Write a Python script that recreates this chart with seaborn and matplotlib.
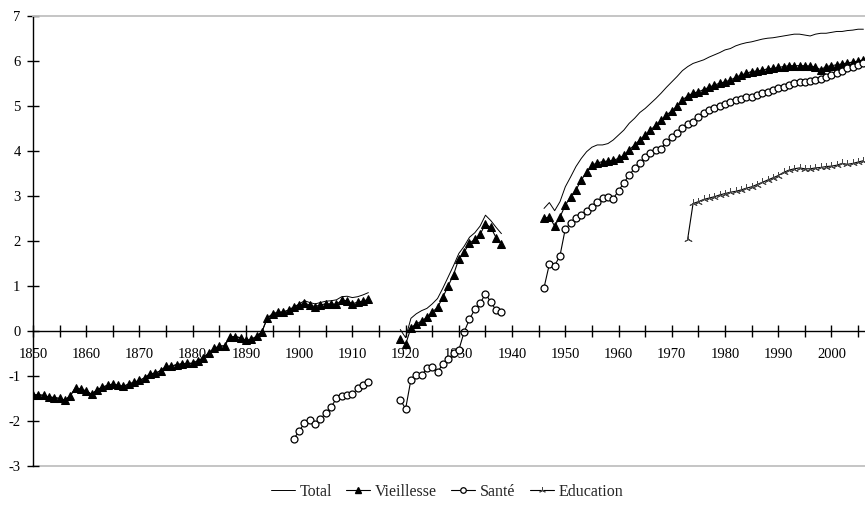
import numpy as np
import pandas as pd
import matplotlib
matplotlib.use("Agg")
import matplotlib.pyplot as plt
import seaborn as sns

# ---- data (log scale values) ----
years_a = list(range(1850, 1914))   # 1850-1913
years_b = list(range(1919, 1939))   # 1919-1938
years_c = list(range(1946, 2007))   # 1946-2006
years_sante_a = list(range(1899, 1914))
years_educ = list(range(1973, 2007))

vieillesse_a = [-1.42, -1.42, -1.43, -1.47, -1.48, -1.50, -1.54, -1.44, -1.26, -1.30,
                -1.33, -1.41, -1.31, -1.25, -1.21, -1.18, -1.21, -1.23, -1.18, -1.14,
                -1.10, -1.04, -0.95, -0.94, -0.88, -0.79, -0.78, -0.75, -0.73, -0.72,
                -0.72, -0.66, -0.60, -0.49, -0.39, -0.34, -0.33, -0.13, -0.13, -0.15,
                -0.21, -0.19, -0.12, -0.02, 0.28, 0.38, 0.41, 0.42, 0.46, 0.53,
                0.57, 0.62, 0.57, 0.54, 0.58, 0.60, 0.60, 0.59, 0.68, 0.67,
                0.60, 0.64, 0.66, 0.70]
total_a = [-1.42, -1.42, -1.43, -1.47, -1.48, -1.50, -1.54, -1.44, -1.26, -1.30,
           -1.33, -1.41, -1.31, -1.25, -1.21, -1.18, -1.21, -1.23, -1.18, -1.14,
           -1.10, -1.04, -0.95, -0.94, -0.88, -0.79, -0.78, -0.75, -0.73, -0.72,
           -0.72, -0.66, -0.60, -0.49, -0.39, -0.34, -0.33, -0.13, -0.13, -0.15,
           -0.21, -0.19, -0.12, -0.02, 0.28, 0.38, 0.41, 0.42, 0.46, 0.53,
           0.60, 0.67, 0.63, 0.60, 0.63, 0.66, 0.67, 0.69, 0.76, 0.77,
           0.74, 0.76, 0.80, 0.85]
sante_a = [-2.39, -2.23, -2.04, -1.98, -2.07, -1.96, -1.82, -1.69, -1.50, -1.44,
           -1.43, -1.41, -1.27, -1.21, -1.14]

vieillesse_b = [-0.19, -0.30, 0.07, 0.15, 0.22, 0.30, 0.42, 0.52, 0.75, 1.00,
                1.25, 1.60, 1.75, 1.95, 2.03, 2.15, 2.37, 2.30, 2.07, 1.94]
total_b = [0.03, -0.15, 0.28, 0.38, 0.45, 0.50, 0.60, 0.72, 0.95, 1.20,
           1.45, 1.72, 1.88, 2.08, 2.18, 2.33, 2.57, 2.45, 2.30, 2.16]
sante_b = [-1.53, -1.73, -1.08, -0.98, -0.99, -0.83, -0.80, -0.92, -0.73, -0.62,
           -0.50, -0.42, -0.02, 0.26, 0.48, 0.61, 0.83, 0.64, 0.46, 0.41]

vieillesse_c = [2.50, 2.53, 2.33, 2.53, 2.79, 2.98, 3.13, 3.35, 3.53, 3.68,
                3.73, 3.76, 3.77, 3.79, 3.83, 3.90, 4.02, 4.13, 4.24, 4.35,
                4.46, 4.57, 4.68, 4.79, 4.89, 4.99, 5.13, 5.22, 5.28, 5.31,
                5.36, 5.41, 5.46, 5.50, 5.53, 5.57, 5.63, 5.68, 5.72, 5.76,
                5.77, 5.79, 5.82, 5.83, 5.85, 5.87, 5.89, 5.89, 5.89, 5.89,
                5.88, 5.86, 5.80, 5.87, 5.89, 5.91, 5.93, 5.95, 5.97, 5.99,
                6.02]
total_c = [2.72, 2.85, 2.67, 2.87, 3.20, 3.42, 3.65, 3.83, 3.98, 4.08,
           4.13, 4.13, 4.16, 4.24, 4.35, 4.46, 4.61, 4.72, 4.85, 4.94,
           5.05, 5.16, 5.28, 5.41, 5.53, 5.65, 5.78, 5.87, 5.94, 5.98,
           6.02, 6.08, 6.13, 6.18, 6.24, 6.27, 6.33, 6.37, 6.40, 6.42,
           6.45, 6.48, 6.50, 6.51, 6.53, 6.55, 6.57, 6.59, 6.59, 6.57,
           6.55, 6.59, 6.61, 6.61, 6.63, 6.65, 6.65, 6.67, 6.68, 6.70,
           6.70]
sante_c = [0.96, 1.48, 1.45, 1.67, 2.27, 2.39, 2.50, 2.57, 2.67, 2.76,
           2.87, 2.96, 2.98, 2.94, 3.11, 3.29, 3.46, 3.61, 3.72, 3.87,
           3.96, 4.02, 4.05, 4.20, 4.30, 4.39, 4.50, 4.59, 4.65, 4.74,
           4.83, 4.91, 4.96, 4.99, 5.04, 5.09, 5.13, 5.16, 5.19, 5.20,
           5.24, 5.28, 5.31, 5.35, 5.39, 5.42, 5.46, 5.50, 5.52, 5.53,
           5.55, 5.57, 5.59, 5.63, 5.68, 5.73, 5.78, 5.83, 5.87, 5.90,
           5.94]
education = [2.05, 2.83, 2.87, 2.92, 2.95, 2.98, 3.02, 3.05, 3.08, 3.10,
             3.13, 3.17, 3.20, 3.25, 3.30, 3.35, 3.40, 3.45, 3.52, 3.57,
             3.60, 3.62, 3.60, 3.60, 3.62, 3.63, 3.65, 3.66, 3.68, 3.72,
             3.70, 3.72, 3.75, 3.78]

series_names = ["Total", "Vieillesse", "Santé", "Education"]
x_ticks = list(range(1850, 2007, 5))


def segments(name, parts):
    rows = []
    for i, (yrs, vals) in enumerate(parts):
        rows.append(pd.DataFrame({"year": yrs, "value": vals, "series": name, "segment": i}))
    return pd.concat(rows)


df = pd.concat([
    segments("Total", [(years_a, total_a), (years_b, total_b), (years_c, total_c)]),
    segments("Vieillesse", [(years_a, vieillesse_a), (years_b, vieillesse_b), (years_c, vieillesse_c)]),
    segments("Santé", [(years_sante_a, sante_a), (years_b, sante_b), (years_c, sante_c)]),
    segments("Education", [(years_educ, education)]),
], ignore_index=True)

sns.set_style("white")
plt.rcParams["font.family"] = ["Liberation Serif", "DejaVu Serif"]
plt.rcParams["axes.unicode_minus"] = False

styles = {
    "Total": dict(color="black", lw=0.7, marker=None),
    "Vieillesse": dict(color="black", lw=0.8, marker="^", markersize=5.5,
                       markerfacecolor="black", markeredgecolor="black"),
    "Santé": dict(color="black", lw=0.8, marker="o", markersize=5,
                  markerfacecolor="white", markeredgecolor="black", markeredgewidth=0.9),
    "Education": dict(color="black", lw=0.8, marker=(3, 2, 0), markersize=6,
                      markeredgecolor="#444444", markeredgewidth=0.7),
}

fig, ax = plt.subplots(figsize=(8.65, 5.05), dpi=100)
fig.subplots_adjust(left=33 / 865, right=1.0, top=1 - 15.7 / 505, bottom=1 - 466 / 505)

handles = []
for name in series_names:
    sub = df[df["series"] == name]
    sns.lineplot(data=sub, x="year", y="value", units="segment", estimator=None,
                 ax=ax, legend=False, **styles[name])
    h, = ax.plot([], [], label=name, **styles[name])
    handles.append(h)

ax.set_xlim(1850, 2006.3)
ax.set_ylim(-3, 7)
ax.set_xlabel("")
ax.set_ylabel("")

ax.set_xticks(x_ticks)
ax.set_xticklabels([str(y) if y % 10 == 0 else "" for y in x_ticks])
ax.set_yticks(range(-3, 8))

ax.spines["bottom"].set_position(("data", 0))
ax.spines["right"].set_visible(False)
ax.spines["top"].set_color("#c0c0c0")
ax.spines["top"].set_linewidth(1.3)
ax.axhline(-3, color="#c0c0c0", lw=1.3, zorder=0, clip_on=False)
for s in ["left", "bottom"]:
    ax.spines[s].set_color("black")
    ax.spines[s].set_linewidth(1.0)

ax.tick_params(axis="both", direction="inout", length=8, width=1.0, labelsize=10.5,
               colors="black", bottom=True, left=True)
ax.tick_params(axis="x", pad=8)
ax.tick_params(axis="y", pad=5)

fig.legend(handles=handles, loc="center", bbox_to_anchor=(447 / 865, 1 - 492 / 505),
           ncol=4, frameon=False, fontsize=11.5, handlelength=1.5, handletextpad=0.3,
           columnspacing=0.9, markerscale=0.8)

fig.savefig("out.png", dpi=100)
